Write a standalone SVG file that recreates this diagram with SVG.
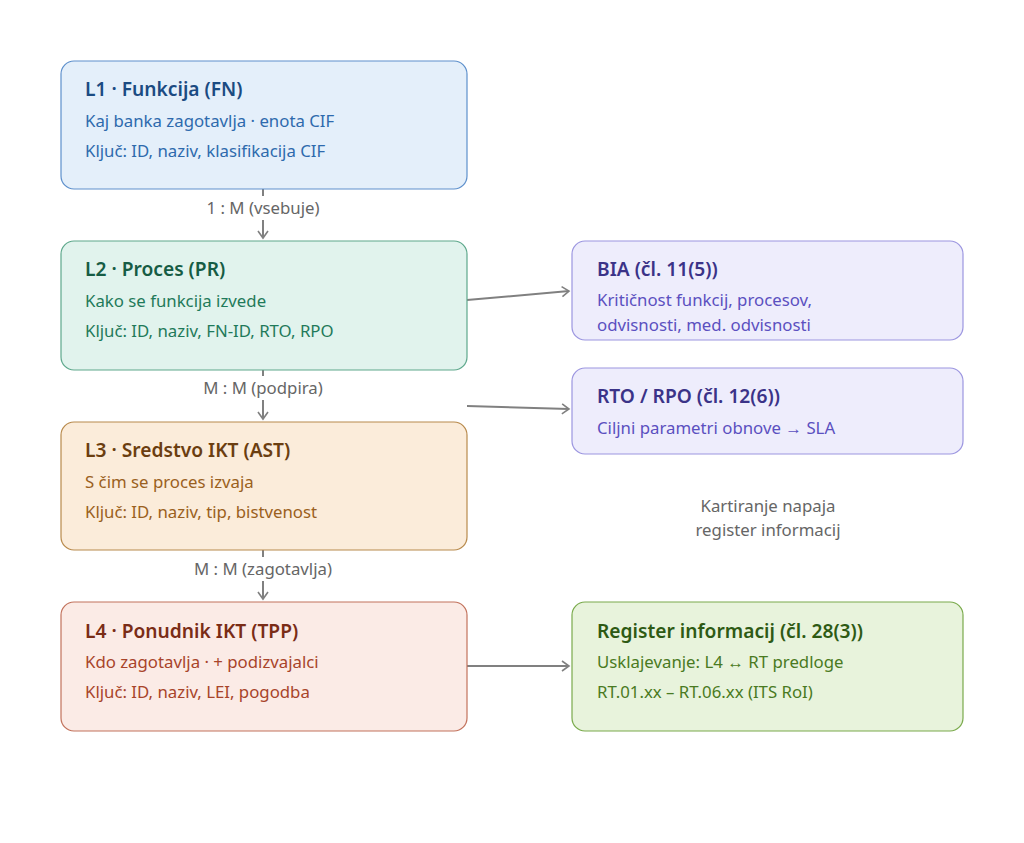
<svg xmlns="http://www.w3.org/2000/svg" width="1024" height="843" viewBox="0 0 1024 843">
<defs>
<marker id="ah" viewBox="0 0 12 12" refX="10" refY="6" markerWidth="12" markerHeight="12" markerUnits="userSpaceOnUse" orient="auto">
<path d="M3,1 L10,6 L3,11" fill="none" stroke="#808080" stroke-width="1.6"/>
</marker>
<style>
text{font-family:"Noto Sans","Open Sans","Liberation Sans",sans-serif}
.t{font-size:19.2px;font-weight:600}
.s{font-size:16.8px}
.lbl{font-size:16.8px;fill:#666;text-anchor:middle}
.c{stroke:#808080;stroke-width:2;fill:none}
</style>
</defs>
<rect width="1024" height="843" fill="#fff"/>
<g id="connectors">
<line class="c" x1="263" y1="189" x2="263" y2="238" marker-end="url(#ah)"/>
<rect x="195" y="196" width="136" height="24" fill="#fff"/>
<text class="lbl" x="263" y="214">1 : M (vsebuje)</text>
<line class="c" x1="263" y1="370" x2="263" y2="419" marker-end="url(#ah)"/>
<rect x="190" y="376" width="146" height="24" fill="#fff"/>
<text class="lbl" x="263" y="394">M : M (podpira)</text>
<line class="c" x1="263" y1="550" x2="263" y2="599" marker-end="url(#ah)"/>
<rect x="180" y="557" width="166" height="24" fill="#fff"/>
<text class="lbl" x="263" y="575">M : M (zagotavlja)</text>
<line class="c" x1="467" y1="300" x2="569" y2="291" marker-end="url(#ah)"/>
<line class="c" x1="467" y1="406" x2="569" y2="409" marker-end="url(#ah)"/>
<line class="c" x1="467" y1="666" x2="569" y2="666" marker-end="url(#ah)"/>
<text class="lbl" x="768" y="512">Kartiranje napaja</text>
<text class="lbl" x="768" y="536">register informacij</text>
</g>
<g id="L1">
<rect x="61" y="61" width="406" height="128" rx="13" fill="#e4effa" stroke="#5e90cc" stroke-width="1.2"/>
<text class="t" x="85" y="96" fill="#1b4b82">L1 · Funkcija (FN)</text>
<text class="s" x="85" y="127" fill="#2e6aad">Kaj banka zagotavlja · enota CIF</text>
<text class="s" x="85" y="157" fill="#2e6aad">Ključ: ID, naziv, klasifikacija CIF</text>
</g>
<g id="L2">
<rect x="61" y="241" width="406" height="129" rx="13" fill="#e1f3ed" stroke="#5ea88c" stroke-width="1.2"/>
<text class="t" x="85" y="276" fill="#165c44">L2 · Proces (PR)</text>
<text class="s" x="85" y="307" fill="#1f7a5a">Kako se funkcija izvede</text>
<text class="s" x="85" y="337" fill="#1f7a5a">Ključ: ID, naziv, FN-ID, RTO, RPO</text>
</g>
<g id="L3">
<rect x="61" y="422" width="406" height="128" rx="13" fill="#fbecda" stroke="#b88a4c" stroke-width="1.2"/>
<text class="t" x="85" y="457" fill="#6b3e10">L3 · Sredstvo IKT (AST)</text>
<text class="s" x="85" y="488" fill="#9a6020">S čim se proces izvaja</text>
<text class="s" x="85" y="518" fill="#9a6020">Ključ: ID, naziv, tip, bistvenost</text>
</g>
<g id="L4">
<rect x="61" y="602" width="406" height="129" rx="13" fill="#fbebe6" stroke="#c2725c" stroke-width="1.2"/>
<text class="t" x="85" y="638" fill="#7a2c16">L4 · Ponudnik IKT (TPP)</text>
<text class="s" x="85" y="668" fill="#a8442a">Kdo zagotavlja · + podizvajalci</text>
<text class="s" x="85" y="698" fill="#a8442a">Ključ: ID, naziv, LEI, pogodba</text>
</g>
<g id="BIA">
<rect x="572" y="241" width="391" height="99" rx="13" fill="#eeedfc" stroke="#9c96e0" stroke-width="1.2"/>
<text class="t" x="597" y="276" fill="#3b3388">BIA (čl. 11(5))</text>
<text class="s" x="597" y="306" fill="#5b50c0">Kritičnost funkcij, procesov,</text>
<text class="s" x="597" y="331" fill="#5b50c0">odvisnosti, med. odvisnosti</text>
</g>
<g id="RTO">
<rect x="572" y="368" width="391" height="86" rx="13" fill="#eeedfc" stroke="#9c96e0" stroke-width="1.2"/>
<text class="t" x="597" y="403" fill="#3b3388">RTO / RPO (čl. 12(6))</text>
<text class="s" x="597" y="434" fill="#5b50c0">Ciljni parametri obnove → SLA</text>
</g>
<g id="RoI">
<rect x="572" y="602" width="391" height="129" rx="13" fill="#e8f3dc" stroke="#7aaa4c" stroke-width="1.2"/>
<text class="t" x="597" y="638" fill="#2e5a14">Register informacij (čl. 28(3))</text>
<text class="s" x="597" y="668" fill="#4a7a22">Usklajevanje: L4 ↔ RT predloge</text>
<text class="s" x="597" y="698" fill="#4a7a22">RT.01.xx – RT.06.xx (ITS RoI)</text>
</g>
</svg>
